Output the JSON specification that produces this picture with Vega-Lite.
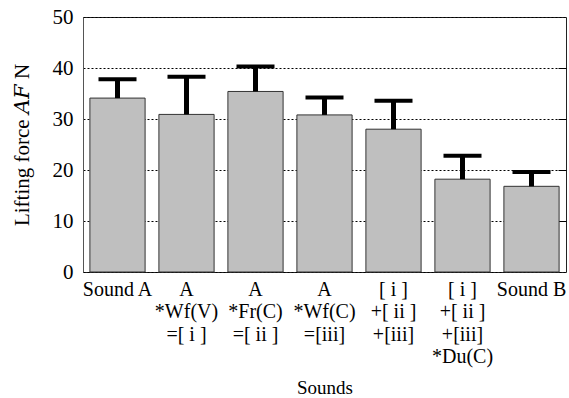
{
  "$schema": "https://vega.github.io/schema/vega-lite/v6.json",
  "autosize": {"type": "none"},
  "padding": {"left": 83, "top": 17, "right": 3, "bottom": 126},
  "width": 483,
  "height": 255,
  "background": "white",
  "config": {
    "font": "Times New Roman, Liberation Serif, DejaVu Serif, serif",
    "view": {"stroke": "#222", "strokeWidth": 1}
  },
  "data": {
    "values": [
      {"sound": "Sound A", "force": 34.1, "upper": 37.8},
      {"sound": "A|*Wf(V)|=[ i ]", "force": 30.9, "upper": 38.3},
      {"sound": "A|*Fr(C)|=[ ii ]", "force": 35.4, "upper": 40.3},
      {"sound": "A|*Wf(C)|=[iii]", "force": 30.8, "upper": 34.2},
      {"sound": "[ i ]|+[ ii ]|+[iii]", "force": 28.0, "upper": 33.6},
      {"sound": "[ i ]|+[ ii ]|+[iii]|*Du(C)", "force": 18.2, "upper": 22.8},
      {"sound": "Sound B", "force": 16.8, "upper": 19.6}
    ]
  },
  "encoding": {
    "x": {
      "field": "sound",
      "type": "nominal",
      "sort": null,
      "scale": {"paddingInner": 0.2, "paddingOuter": 0.1},
      "axis": {
        "title": "Sounds",
        "titleFont": "Times New Roman, Liberation Serif, serif",
        "titleFontSize": 19,
        "titleFontWeight": "normal",
        "titleColor": "black",
        "titlePadding": 12,
        "labelAngle": 0,
        "labelFont": "Times New Roman, Liberation Serif, serif",
        "labelFontSize": 20,
        "labelColor": "black",
        "labelLineHeight": 22.5,
        "labelPadding": 7,
        "labelExpr": "split(datum.value, '|')",
        "ticks": false,
        "domain": false
      }
    }
  },
  "layer": [
    {
      "mark": {"type": "bar", "fill": "#bfbfbf", "stroke": "#333", "strokeWidth": 1},
      "encoding": {
        "y": {
          "field": "force",
          "type": "quantitative",
          "scale": {"domain": [0, 50], "nice": false},
          "axis": {
            "title": "Lifting force  𝐴𝐹 N",
            "titleFont": "Times New Roman, Liberation Serif, DejaVu Serif, serif",
            "titleFontSize": 21,
            "titleFontWeight": "normal",
            "titleColor": "black",
            "titlePadding": 20,
            "values": [0, 10, 20, 30, 40, 50],
            "labelFont": "Times New Roman, Liberation Serif, serif",
            "labelFontSize": 21,
            "labelColor": "black",
            "labelPadding": 10,
            "ticks": false,
            "domainColor": "#555",
            "gridColor": "black",
            "gridDash": [2, 2],
            "gridWidth": 1
          }
        }
      }
    },
    {
      "mark": {"type": "rule", "color": "black", "strokeWidth": 5},
      "encoding": {
        "y": {"field": "force", "type": "quantitative", "scale": {"domain": [0, 50], "nice": false}, "axis": null},
        "y2": {"field": "upper"}
      }
    },
    {
      "mark": {"type": "tick", "color": "black", "thickness": 4, "size": 38, "opacity": 1},
      "encoding": {
        "y": {
          "field": "upper",
          "type": "quantitative",
          "scale": {"domain": [0, 50], "nice": false},
          "axis": {
            "orient": "right",
            "title": null,
            "labels": false,
            "domain": false,
            "grid": false,
            "values": [10, 20, 30, 40],
            "tickSize": -8,
            "tickColor": "black",
            "tickWidth": 1
          }
        }
      }
    }
  ],
  "resolve": {"axis": {"y": "independent"}}
}
